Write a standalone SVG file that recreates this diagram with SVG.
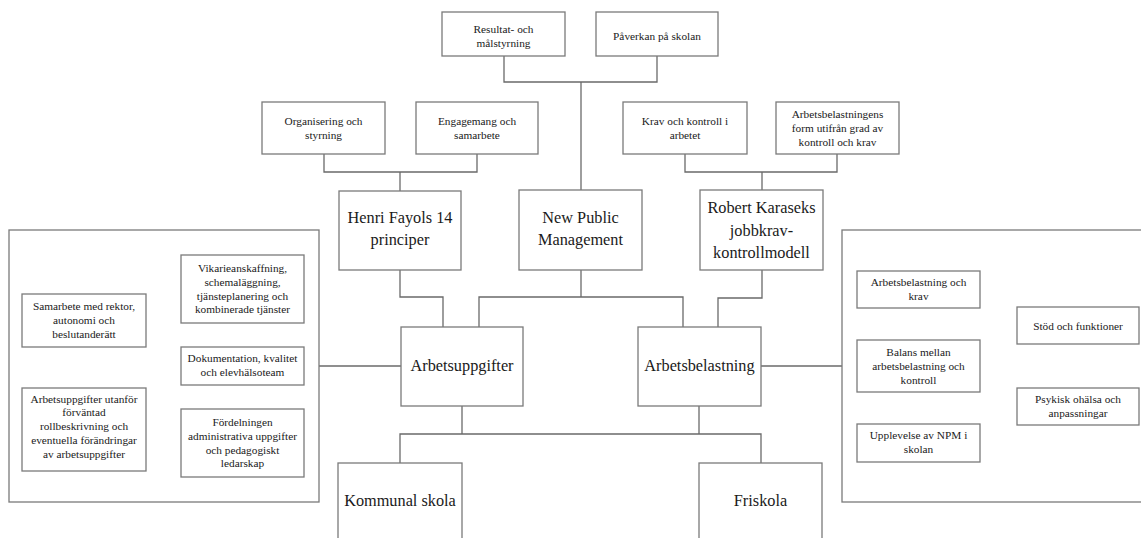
<svg xmlns="http://www.w3.org/2000/svg" width="1141" height="538" viewBox="0 0 1141 538">
  <style>
    .box { fill: #ffffff; stroke: #7a7a7a; stroke-width: 1.3; }
    .panel { fill: none; stroke: #7a7a7a; stroke-width: 1.3; }
    .wire { fill: none; stroke: #6a6a6a; stroke-width: 1.3; }
    .s { font-family: "Liberation Serif", "Times New Roman", serif; font-size: 11.3px; fill: #1a1a1a; text-anchor: middle; }
    .l { font-family: "Liberation Serif", "Times New Roman", serif; font-size: 16.3px; fill: #1a1a1a; text-anchor: middle; }
  </style>
  <rect width="1141" height="538" fill="#ffffff"/>

  <!-- connectors -->
  <g id="connectors">
    <polyline class="wire" points="504,56 504,82 657,82 657,56"/>
    <line class="wire" x1="581" y1="82" x2="581" y2="190"/>
    <polyline class="wire" points="324,154 324,172 477,172 477,154"/>
    <line class="wire" x1="400" y1="172" x2="400" y2="191"/>
    <polyline class="wire" points="685,154 685,172 837,172 837,154"/>
    <line class="wire" x1="762" y1="172" x2="762" y2="190"/>
    <polyline class="wire" points="400,270 400,297 443,297 443,327"/>
    <line class="wire" x1="581" y1="270" x2="581" y2="297"/>
    <polyline class="wire" points="479,327 479,297 683,297 683,327"/>
    <polyline class="wire" points="762,270 762,298 718,298 718,327"/>
    <line class="wire" x1="319" y1="366" x2="401" y2="366"/>
    <line class="wire" x1="761" y1="366" x2="842" y2="366"/>
    <line class="wire" x1="462" y1="406" x2="462" y2="434"/>
    <line class="wire" x1="699" y1="406" x2="699" y2="434"/>
    <polyline class="wire" points="400,463 400,434 761,434 761,463"/>
  </g>

  <!-- top row -->
  <g id="resultat">
    <rect class="box" x="442" y="12" width="123" height="44"/>
    <text class="s" x="503.5" y="32.5">Resultat- och</text>
    <text class="s" x="503.5" y="46.5">målstyrning</text>
  </g>
  <g id="paverkan">
    <rect class="box" x="596" y="12" width="122" height="44"/>
    <text class="s" x="657" y="39.5">Påverkan på skolan</text>
  </g>

  <!-- second row -->
  <g id="organisering">
    <rect class="box" x="262" y="102" width="123" height="52"/>
    <text class="s" x="323.5" y="125">Organisering och</text>
    <text class="s" x="323.5" y="138.8">styrning</text>
  </g>
  <g id="engagemang">
    <rect class="box" x="416" y="102" width="122" height="52"/>
    <text class="s" x="477" y="125">Engagemang och</text>
    <text class="s" x="477" y="138.8">samarbete</text>
  </g>
  <g id="krav-kontroll">
    <rect class="box" x="623" y="102" width="124" height="52"/>
    <text class="s" x="685" y="125">Krav och kontroll i</text>
    <text class="s" x="685" y="138.8">arbetet</text>
  </g>
  <g id="arbetsbelastningens-form">
    <rect class="box" x="776" y="102" width="123" height="52"/>
    <text class="s" x="837.5" y="118">Arbetsbelastningens</text>
    <text class="s" x="837.5" y="131.8">form utifrån grad av</text>
    <text class="s" x="837.5" y="145.6">kontroll och krav</text>
  </g>

  <!-- theory row -->
  <g id="fayol">
    <rect class="box" x="339" y="191" width="122" height="79"/>
    <text class="l" x="400" y="223">Henri Fayols 14</text>
    <text class="l" x="400" y="244.5">principer</text>
  </g>
  <g id="npm">
    <rect class="box" x="519" y="190" width="123" height="80"/>
    <text class="l" x="580.5" y="223">New Public</text>
    <text class="l" x="580.5" y="245">Management</text>
  </g>
  <g id="karasek">
    <rect class="box" x="700" y="190" width="123" height="80"/>
    <text class="l" x="761.5" y="213">Robert Karaseks</text>
    <text class="l" x="761.5" y="235.5">jobbkrav-</text>
    <text class="l" x="761.5" y="258">kontrollmodell</text>
  </g>

  <!-- theme row -->
  <g id="arbetsuppgifter">
    <rect class="box" x="401" y="327" width="122" height="79"/>
    <text class="l" x="462" y="371">Arbetsuppgifter</text>
  </g>
  <g id="arbetsbelastning">
    <rect class="box" x="638" y="327" width="123" height="79"/>
    <text class="l" x="699.5" y="371">Arbetsbelastning</text>
  </g>

  <!-- school types -->
  <g id="kommunal">
    <rect class="box" x="338" y="463" width="124" height="90"/>
    <text class="l" x="400" y="506">Kommunal skola</text>
  </g>
  <g id="friskola">
    <rect class="box" x="699" y="463" width="123" height="90"/>
    <text class="l" x="760.5" y="506">Friskola</text>
  </g>

  <!-- left panel: sub-themes of Arbetsuppgifter -->
  <g id="panel-left">
    <rect class="panel" x="9" y="230" width="310" height="272"/>
  </g>
  <g id="samarbete">
    <rect class="box" x="22" y="294" width="124" height="53"/>
    <text class="s" x="84" y="310">Samarbete med rektor,</text>
    <text class="s" x="84" y="323.8">autonomi och</text>
    <text class="s" x="84" y="337.6">beslutanderätt</text>
  </g>
  <g id="utanfor">
    <rect class="box" x="22" y="388" width="124" height="83"/>
    <text class="s" x="84" y="402.5">Arbetsuppgifter utanför</text>
    <text class="s" x="84" y="416.3">förväntad</text>
    <text class="s" x="84" y="430.1">rollbeskrivning och</text>
    <text class="s" x="84" y="443.9">eventuella förändringar</text>
    <text class="s" x="84" y="457.7">av arbetsuppgifter</text>
  </g>
  <g id="vikarie">
    <rect class="box" x="181" y="255" width="123" height="68"/>
    <text class="s" x="242.5" y="272">Vikarieanskaffning,</text>
    <text class="s" x="242.5" y="285.8">schemaläggning,</text>
    <text class="s" x="242.5" y="299.6">tjänsteplanering och</text>
    <text class="s" x="242.5" y="313.4">kombinerade tjänster</text>
  </g>
  <g id="dokumentation">
    <rect class="box" x="181" y="347" width="123" height="38"/>
    <text class="s" x="242.5" y="362">Dokumentation, kvalitet</text>
    <text class="s" x="242.5" y="375.8">och elevhälsoteam</text>
  </g>
  <g id="fordelningen">
    <rect class="box" x="181" y="409" width="123" height="68"/>
    <text class="s" x="242.5" y="426">Fördelningen</text>
    <text class="s" x="242.5" y="439.8">administrativa uppgifter</text>
    <text class="s" x="242.5" y="453.6">och pedagogiskt</text>
    <text class="s" x="242.5" y="467.4">ledarskap</text>
  </g>

  <!-- right panel: sub-themes of Arbetsbelastning -->
  <g id="panel-right">
    <rect class="panel" x="842" y="230" width="320" height="272"/>
  </g>
  <g id="belastning-krav">
    <rect class="box" x="857" y="271" width="123" height="37"/>
    <text class="s" x="918.5" y="286">Arbetsbelastning och</text>
    <text class="s" x="918.5" y="299.8">krav</text>
  </g>
  <g id="balans">
    <rect class="box" x="857" y="340" width="123" height="52"/>
    <text class="s" x="918.5" y="356">Balans mellan</text>
    <text class="s" x="918.5" y="369.8">arbetsbelastning och</text>
    <text class="s" x="918.5" y="383.6">kontroll</text>
  </g>
  <g id="upplevelse">
    <rect class="box" x="857" y="424" width="123" height="38"/>
    <text class="s" x="918.5" y="439">Upplevelse av NPM i</text>
    <text class="s" x="918.5" y="452.8">skolan</text>
  </g>
  <g id="stod">
    <rect class="box" x="1017" y="307" width="122" height="37"/>
    <text class="s" x="1078" y="329.5">Stöd och funktioner</text>
  </g>
  <g id="psykisk">
    <rect class="box" x="1017" y="388" width="122" height="37"/>
    <text class="s" x="1078" y="403">Psykisk ohälsa och</text>
    <text class="s" x="1078" y="416.8">anpassningar</text>
  </g>
</svg>
